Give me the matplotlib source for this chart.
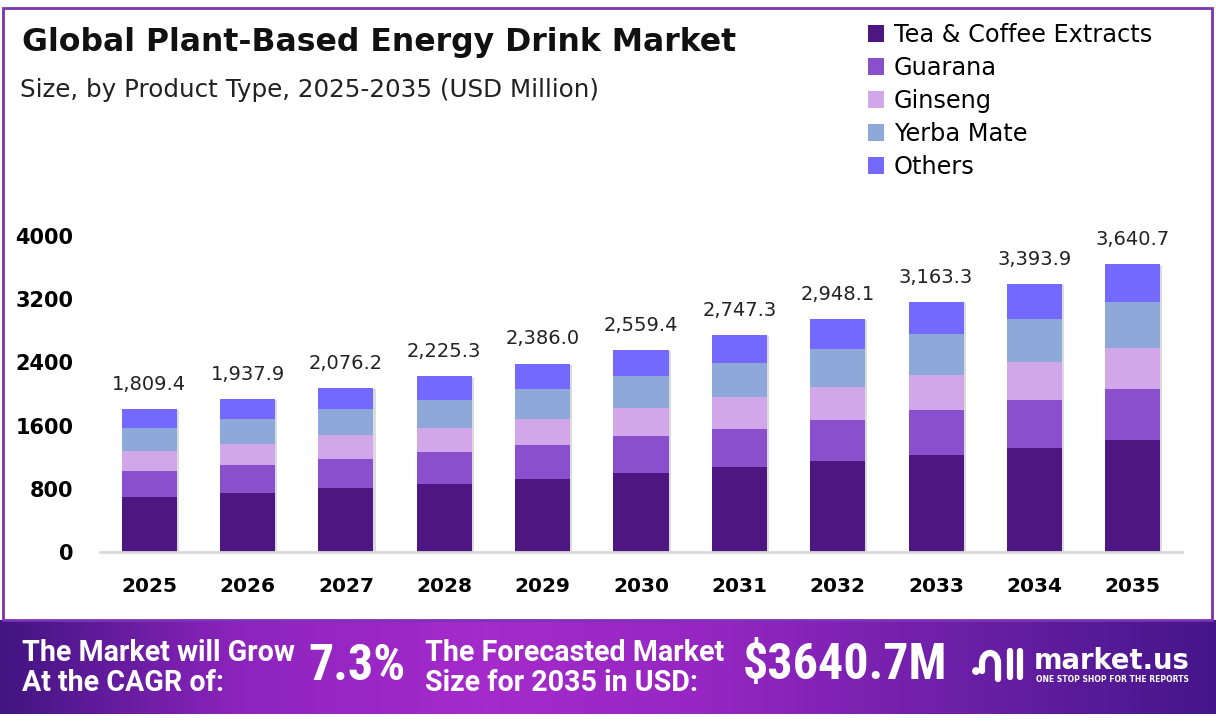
import numpy as np
import matplotlib.pyplot as plt
import matplotlib.patheffects as pe
from matplotlib.patches import Rectangle, Arc, Circle
from matplotlib.lines import Line2D
from matplotlib.colors import LinearSegmentedColormap

# data (USD Million)
years = ['2025', '2026', '2027', '2028', '2029', '2030', '2031', '2032', '2033', '2034', '2035']
totals = [1809.4, 1937.9, 2076.2, 2225.3, 2386.0, 2559.4, 2747.3, 2948.1, 3163.3, 3393.9, 3640.7]
tea_coffee = [700, 752, 806, 866, 918, 1002, 1073, 1148, 1224, 1313, 1414]
guarana = [320, 344, 372, 396, 434, 461, 486, 523, 574, 613, 652]
ginseng = [260, 272, 299, 311, 336, 355, 399, 421, 446, 485, 515]
yerba_mate = [290, 315, 329, 354, 379, 409, 431, 472, 510, 535, 583]
others = [239.4, 254.9, 270.2, 298.3, 319.0, 332.4, 358.3, 384.1, 409.3, 447.9, 476.7]

segments = ['Tea & Coffee Extracts', 'Guarana', 'Ginseng', 'Yerba Mate', 'Others']
colors = ['#4E1681', '#8A4FCC', '#D2A7EA', '#8EA8DA', '#7469FE']

W, H = 1216, 723
fig = plt.figure(figsize=(W / 100, H / 100), dpi=100)
fig.patch.set_facecolor('white')


def fx(px):
    return px / W


def fy(py):
    return 1 - py / H


# main plot area
ax = fig.add_axes([fx(100), fy(552), fx(1182) - fx(100), fy(236) - fy(552)])
x = np.arange(len(years))

# soft shadow behind the stacks
ax.bar(x, totals, width=0.56, color='white', zorder=2,
       path_effects=[pe.SimplePatchShadow(offset=(1.5, -1), shadow_rgbFace='#999999', alpha=0.35), pe.Normal()])

bottom = np.zeros(len(years))
for name, vals, c in zip(segments, [tea_coffee, guarana, ginseng, yerba_mate, others], colors):
    ax.bar(x, vals, width=0.56, bottom=bottom, color=c, label=name, zorder=3)
    bottom += np.array(vals)

for i, t in enumerate(totals):
    ax.annotate(f'{t:,.1f}', (x[i], t), xytext=(0, 11), textcoords='offset points',
                ha='center', va='bottom', fontsize=14, color='#222222')

ax.set_xlim(-0.5, 10.5)
ax.set_ylim(0, 4000)
ax.set_yticks([0, 800, 1600, 2400, 3200, 4000])
ax.set_yticklabels(['0', '800', '1600', '2400', '3200', '4000'], fontsize=15, fontweight='bold')
ax.set_xticks(x)
ax.set_xticklabels(years, fontsize=14.5, fontweight='bold')
ax.tick_params(axis='y', length=0, pad=19)
ax.tick_params(axis='x', length=0, pad=18)
for s in ax.spines.values():
    s.set_visible(False)
ax.axhline(0, color='#d9d9d9', lw=2, zorder=4, clip_on=False)
ax.patch.set_alpha(0)

leg = ax.legend(loc='upper left', bbox_to_anchor=(fx(858), fy(13)), bbox_transform=fig.transFigure,
                frameon=False, fontsize=17.3, handlelength=0.7, handleheight=0.7,
                handletextpad=0.4, labelspacing=0.38, borderaxespad=0)

# titles
fig.text(fx(22), fy(43), 'Global Plant-Based Energy Drink Market', fontsize=22.7, fontweight='bold',
         color='#111111', va='center', ha='left')
fig.text(fx(20), fy(90), 'Size, by Product Type, 2025-2035 (USD Million)', fontsize=17.7,
         color='#222222', va='center', ha='left')

# purple frame
fig.add_artist(Rectangle((fx(3), fy(620)), fx(1212) - fx(3), fy(8) - fy(620), fill=False,
                         edgecolor='#7B33B3', lw=2, transform=fig.transFigure))

# bottom banner with gradient
bax = fig.add_axes([0, fy(714), 1, fy(620) - fy(714)])
grad = np.linspace(0, 1, 512)
cmap = LinearSegmentedColormap.from_list('banner', ['#421582', '#8E24BE', '#A52BCB', '#9326C0', '#6A1FA6', '#45168A'])
bax.imshow(grad[None, :], aspect='auto', cmap=cmap, extent=[0, 1, 0, 1])
bax.set_xlim(0, 1)
bax.set_ylim(0, 1)
bax.axis('off')

lfont = ['Roboto', 'DejaVu Sans']
bfont = ['Roboto Condensed', 'Roboto', 'DejaVu Sans']
fig.text(fx(22), fy(668), 'The Market will Grow\nAt the CAGR of:', fontsize=20.6, fontweight='bold',
         color='white', va='center', ha='left', linespacing=1.08, family=lfont)
fig.text(fx(308), fy(666), '7.3%', fontsize=36, fontweight='bold', color='white', va='center',
         ha='left', family=bfont)
fig.text(fx(425), fy(668), 'The Forecasted Market\nSize for 2035 in USD:', fontsize=20.6, fontweight='bold',
         color='white', va='center', ha='left', linespacing=1.08, family=lfont)
fig.text(fx(743), fy(666), '$3640.7M', fontsize=36, fontweight='bold', color='white', va='center',
         ha='left', family=bfont)

# market.us logo
fig.text(fx(1034), fy(661), 'market.us', fontsize=19.8, fontweight='bold', color='white',
         va='center', ha='left')
fig.text(fx(1036), fy(680), 'ONE STOP SHOP FOR THE REPORTS', fontsize=5.5, fontweight='bold',
         color='white', va='center', ha='left')
lax = fig.add_axes([fx(970), fy(685), fx(1030) - fx(970), fy(645) - fy(685)])
lax.set_xlim(0, 60)
lax.set_ylim(0, 40)
lax.axis('off')
lax.add_patch(Circle((6, 14), 3.2, color='white'))
lax.add_patch(Arc((20, 22), 16, 20, theta1=0, theta2=180, color='white', lw=4.5))
lax.add_line(Line2D([12, 12], [22, 14], color='white', lw=4.5, solid_capstyle='round'))
lax.add_line(Line2D([28, 28], [22, 6], color='white', lw=4.5, solid_capstyle='round'))
lax.add_line(Line2D([40, 40], [34, 8], color='white', lw=4.5, solid_capstyle='round'))
lax.add_line(Line2D([50, 50], [34, 8], color='white', lw=4.5, solid_capstyle='round'))

fig.savefig('out.png', dpi=100)
